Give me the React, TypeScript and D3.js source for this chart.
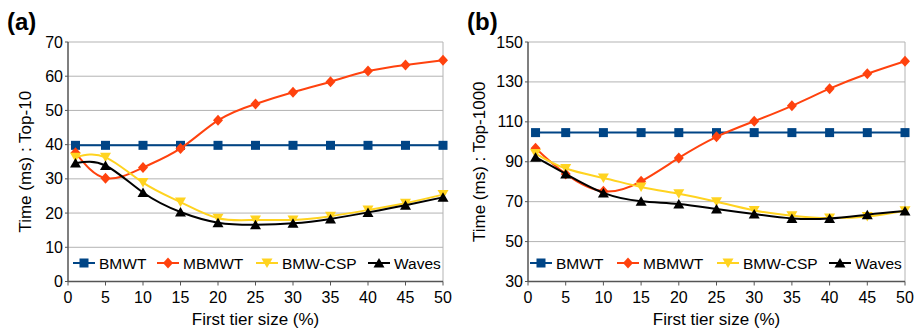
import React from "react";
import * as d3 from "d3";

const xs = [1, 5, 10, 15, 20, 25, 30, 35, 40, 45, 50];
const seriesNames = ["BMWT", "MBMWT", "BMW-CSP", "Waves"];
const seriesColors = ["#004586", "#ff420e", "#ffd320", "#000000"];
const markerTypes = ["square", "diamond", "down", "up"];

const aBMWT = [39.8, 39.8, 39.8, 39.8, 39.8, 39.8, 39.8, 39.8, 39.8, 39.8, 39.8];
const aMBMWT = [37.6, 30.2, 33.3, 38.9, 47.1, 51.9, 55.3, 58.4, 61.5, 63.3, 64.7];
const aCSP = [36.3, 36.3, 28.9, 23.2, 18.5, 18.0, 18.0, 19.1, 20.9, 22.9, 25.4];
const aWaves = [34.6, 33.9, 26.0, 20.3, 17.2, 16.6, 17.0, 18.3, 20.2, 22.3, 24.6];

const bBMWT = [104.6, 104.6, 104.6, 104.6, 104.6, 104.6, 104.6, 104.6, 104.6, 104.6, 104.6];
const bMBMWT = [96.8, 83.9, 75.2, 80.2, 91.9, 102.5, 110.3, 118.0, 126.6, 134.1, 140.4];
const bCSP = [94.1, 86.6, 81.9, 77.4, 74.0, 70.0, 65.6, 63.0, 61.8, 62.6, 65.5];
const bWaves = [92.3, 83.9, 74.4, 70.2, 68.8, 66.3, 63.8, 61.6, 61.6, 63.5, 65.3];

const xTicks = [0, 5, 10, 15, 20, 25, 30, 35, 40, 45, 50];
const aTicks = [0, 10, 20, 30, 40, 50, 60, 70];
const bTicks = [30, 50, 70, 90, 110, 130, 150];

const FONT = "'Liberation Sans', Arial, sans-serif";

function Marker({ type, x, y, color }: { type: string; x: number; y: number; color: string }) {
  if (type === "square") return <rect x={x - 4.5} y={y - 4.5} width={9} height={9} fill={color} />;
  if (type === "diamond")
    return <path d={`M${x},${y - 5.5}L${x + 5},${y}L${x},${y + 5.5}L${x - 5},${y}Z`} fill={color} />;
  if (type === "down")
    return <path d={`M${x - 5.5},${y - 4.5}L${x + 5.5},${y - 4.5}L${x},${y + 5}Z`} fill={color} />;
  return <path d={`M${x - 5.5},${y + 4.5}L${x + 5.5},${y + 4.5}L${x},${y - 5}Z`} fill={color} />;
}

function Panel(props: {
  ox: number;
  width: number;
  label: string;
  yTitle: string;
  yTitleX: number;
  yDomain: [number, number];
  yTicks: number[];
  data: number[][];
  legendX: number[];
}) {
  const { ox, width, label, yTitle, yTitleX, yDomain, yTicks, data, legendX } = props;
  const x = d3.scaleLinear().domain([0, 50]).range([ox, ox + width]);
  const y = d3.scaleLinear().domain(yDomain).range([281.5, 42]);
  const line = d3
    .line<number>()
    .x((_, i) => x(xs[i]))
    .y((v) => y(v))
    .curve(d3.curveNatural);
  const [x0, x1] = x.range();
  const legendY = 263;
  return (
    <g fontFamily={FONT}>
      <text x={ox - 61} y={30} fontSize={24} fontWeight="bold" fill="#000">
        {label}
      </text>
      {yTicks.map((t) => (
        <line key={"g" + t} x1={x0} x2={x1} y1={y(t)} y2={y(t)} stroke="#b3b3b3" strokeWidth={1} />
      ))}
      <line x1={x1} x2={x1} y1={y(yDomain[1])} y2={y(yDomain[0])} stroke="#b3b3b3" strokeWidth={1} />
      {data.map((vals, si) => (
        <g key={si}>
          <path d={line(vals) || ""} fill="none" stroke={seriesColors[si]} strokeWidth={2} />
          {vals.map((v, i) => (
            <Marker key={i} type={markerTypes[si]} x={x(xs[i])} y={y(v)} color={seriesColors[si]} />
          ))}
        </g>
      ))}
      <line x1={x0} x2={x0} y1={y(yDomain[1])} y2={y(yDomain[0])} stroke="#555" strokeWidth={1.5} />
      <line x1={x0} x2={x1} y1={y(yDomain[0])} y2={y(yDomain[0])} stroke="#555" strokeWidth={1.5} />
      {yTicks.map((t) => (
        <g key={"t" + t}>
          <line x1={x0 - 3} x2={x0} y1={y(t)} y2={y(t)} stroke="#555" />
          <text x={x0 - 5} y={y(t) + 5.5} fontSize={16} textAnchor="end" fill="#000">
            {t}
          </text>
        </g>
      ))}
      {xTicks.map((t) => (
        <g key={"x" + t}>
          <line x1={x(t)} x2={x(t)} y1={y(yDomain[0])} y2={y(yDomain[0]) + 4} stroke="#555" />
          <text x={x(t)} y={303} fontSize={16} textAnchor="middle" fill="#000">
            {t}
          </text>
        </g>
      ))}
      <text x={(x0 + x1) / 2} y={325} fontSize={17} textAnchor="middle" fill="#000">
        First tier size (%)
      </text>
      <text
        transform={`translate(${yTitleX},${(y(yDomain[0]) + y(yDomain[1])) / 2}) rotate(-90)`}
        fontSize={17}
        textAnchor="middle"
        fill="#000"
      >
        {yTitle}
      </text>
      {seriesNames.map((n, si) => (
        <g key={n}>
          <line
            x1={legendX[si]}
            x2={legendX[si] + 22}
            y1={legendY}
            y2={legendY}
            stroke={seriesColors[si]}
            strokeWidth={2}
          />
          <Marker type={markerTypes[si]} x={legendX[si] + 11} y={legendY} color={seriesColors[si]} />
          <text x={legendX[si] + 26} y={legendY + 5.5} fontSize={15.5} fill="#000">
            {n}
          </text>
        </g>
      ))}
    </g>
  );
}

export default function App() {
  return (
    <svg
      width={916}
      height={330}
      style={{ position: "absolute", left: 0, top: 0, background: "#fff" }}
    >
      <rect width={916} height={330} fill="#fff" />
      <Panel
        ox={68}
        width={375}
        label="(a)"
        yTitle="Time (ms) : Top-10"
        yTitleX={30.5}
        yDomain={[0, 70]}
        yTicks={aTicks}
        data={[aBMWT, aMBMWT, aCSP, aWaves]}
        legendX={[73, 157, 256, 368]}
      />
      <Panel
        ox={528}
        width={377}
        label="(b)"
        yTitle="Time (ms) : Top-1000"
        yTitleX={485}
        yDomain={[30, 150]}
        yTicks={bTicks}
        data={[bBMWT, bMBMWT, bCSP, bWaves]}
        legendX={[530, 617, 717, 829]}
      />
    </svg>
  );
}
